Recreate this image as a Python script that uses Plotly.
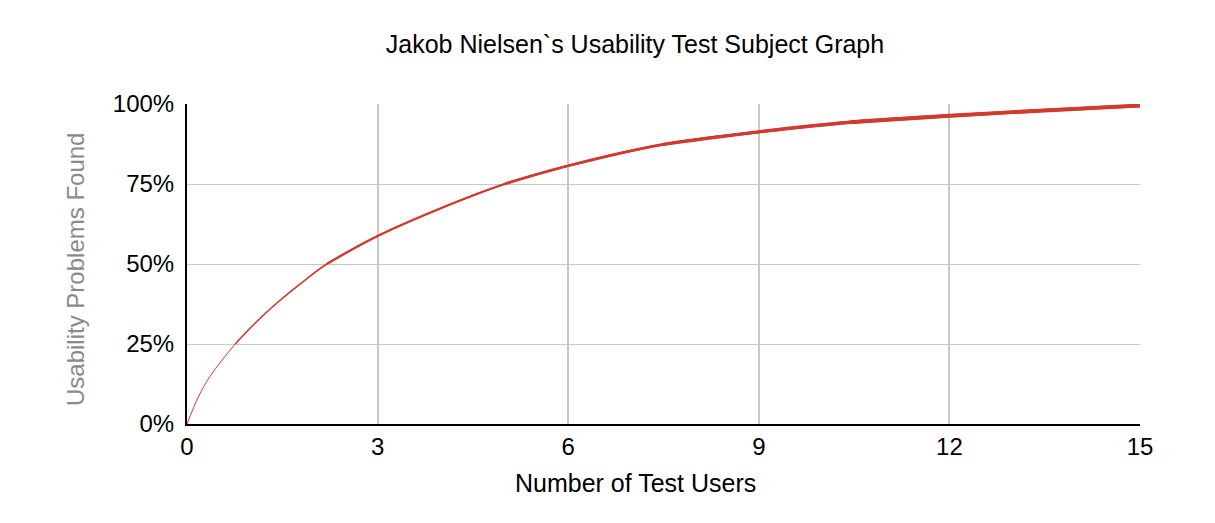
import plotly.graph_objects as go

# values
test_users = [0, 0.18, 0.36, 0.76, 1.07, 1.47, 1.83, 2.2, 3, 3.93, 5.0, 6, 7.5, 9, 10.44, 12, 13.5, 15]
problems_found = [0, 8.5, 14.8, 25, 31.5, 38.75, 44.5, 50, 58.75, 66.9, 75, 80.7, 87.4, 91.3, 94.3, 96.3, 98.0, 99.5]

x_ticks = [0, 3, 6, 9, 12, 15]
y_ticks = [0, 25, 50, 75, 100]
y_labels = ["0%", "25%", "50%", "75%", "100%"]

LINE = "#d13b2f"
FONT = "Liberation Sans"
OFF = 8  # page body margin pushes the figure 8px right/down

fig = go.Figure()

# the line gets thicker to the right: stack smooth traces that start later and are wider
for start, w in [(0, 1.0), (3, 1.6), (7, 2.2), (10, 2.8), (12, 3.4), (14, 4.0)]:
    fig.add_trace(go.Scatter(
        x=test_users[start:],
        y=problems_found[start:],
        mode="lines",
        line=dict(color=LINE, width=w, shape="spline", smoothing=1.0),
        hoverinfo="skip",
        showlegend=False,
    ))

fig.update_layout(
    width=1215,
    height=523,
    margin=dict(l=187 - OFF, r=1215 - 1140 + OFF, t=104 - OFF, b=523 - 424 + OFF),
    plot_bgcolor="white",
    paper_bgcolor="white",
    font=dict(family=FONT, color="black", size=24),
    title=dict(
        text="Jakob Nielsen`s Usability Test Subject Graph",
        xref="paper", x=(635 - 187) / (1140 - 187), xanchor="center",
        yref="container", y=1 - (44 - OFF) / 523, yanchor="middle",
        font=dict(family=FONT, size=25, color="black"),
    ),
    showlegend=False,
    annotations=[
        dict(text="Number of Test Users", xref="paper", yref="paper",
             x=(635 - 187) / (1140 - 187), y=-(483 - 424) / 320,
             xanchor="center", yanchor="middle", showarrow=False,
             font=dict(family=FONT, size=25, color="black")),
        dict(text="Usability Problems Found", xref="paper", yref="paper",
             x=-(187 - 75) / 953, y=(424 - 270) / 320, textangle=-90,
             xanchor="center", yanchor="middle", showarrow=False,
             font=dict(family=FONT, size=24, color="#8a8a8a")),
    ],
)

fig.update_xaxes(
    range=[0, 15],
    tickvals=x_ticks,
    showgrid=True, gridcolor="#c8c8c8", gridwidth=2,
    showline=True, linecolor="black", linewidth=2,
    zeroline=False,
    ticks="",
    tickfont=dict(size=24),
)
fig.update_yaxes(
    range=[0, 100],
    tickvals=y_ticks,
    ticktext=y_labels,
    showgrid=True, gridcolor="#c8c8c8", gridwidth=1,
    showline=True, linecolor="black", linewidth=2,
    zeroline=False,
    ticks="",
    tickfont=dict(size=24),
    ticklabelstandoff=6,
)

fig.write_html("out.html")
